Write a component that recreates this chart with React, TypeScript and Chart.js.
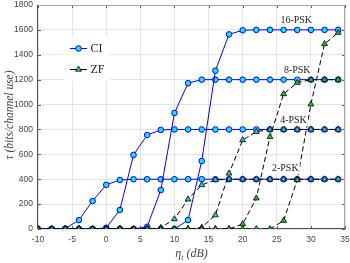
import { useEffect, useRef } from 'react';
import { Chart, registerables } from 'chart.js';

Chart.register(...registerables);

// SNR values (dB)
const snrDb = [-10, -8, -6, -4, -2, 0, 2, 4, 6, 8, 10, 12, 14, 16, 18, 20, 22, 24, 26, 28, 30, 32, 34];

// CI throughput (bits/channel use)
const ci2psk = [0, 0, 3, 72, 225, 355, 394, 400, 400, 400, 400, 400, 400, 400, 400, 400, 400, 400, 400, 400, 400, 400, 400];
const ci4psk = [0, 0, 0, 0, 0, 10, 153, 595, 755, 796, 800, 800, 800, 800, 800, 800, 800, 800, 800, 800, 800, 800, 800];
const ci8psk = [0, 0, 0, 0, 0, 0, 0, 0, 18, 313, 932, 1172, 1200, 1200, 1200, 1200, 1200, 1200, 1200, 1200, 1200, 1200, 1200];
const ci16psk = [0, 0, 0, 0, 0, 0, 0, 0, 0, 0, 0, 72, 546, 1272, 1564, 1597, 1600, 1600, 1600, 1600, 1600, 1600, 1600];

// ZF throughput (bits/channel use)
const zf2psk = [0, 0, 0, 0, 0, 0, 0, 0, 0, 10, 80, 239, 354, 394, 400, 400, 400, 400, 400, 400, 400, 400, 400];
const zf4psk = [0, 0, 0, 0, 0, 0, 0, 0, 0, 0, 0, 0, 12, 112, 447, 715, 782, 800, 800, 800, 800, 800, 800];
const zf8psk = [0, 0, 0, 0, 0, 0, 0, 0, 0, 0, 0, 0, 0, 0, 0, 40, 247, 740, 1085, 1176, 1200, 1200, 1200];
const zf16psk = [0, 0, 0, 0, 0, 0, 0, 0, 0, 0, 0, 0, 0, 0, 0, 0, 0, 0, 67, 394, 1002, 1487, 1578];

const xTicks = [-10, -5, 0, 5, 10, 15, 20, 25, 30, 35];
const yTicks = [0, 200, 400, 600, 800, 1000, 1200, 1400, 1600, 1800];

const seriesLabels = ['CI', 'ZF'];
const curveLabels = ['16-PSK', '8-PSK', '4-PSK', '2-PSK'];
// label anchor (dB, value) for each curve text
const curveLabelX = [27.85, 28.0, 27.45, 26.25];
const curveLabelY = [1675, 1275, 875, 490];

const CYAN = '#12e4fb';
const ZF_CYAN = '#2fc6c6';
const ZF_GREEN = '#22c422';

const toXY = (vals: number[]) => vals.map((v, i) => ({ x: snrDb[i], y: v }));

const ciSet = (vals: number[]) => ({
  label: 'CI',
  data: toXY(vals),
  borderColor: '#0000ff',
  borderWidth: 1,
  backgroundColor: CYAN,
  pointBackgroundColor: CYAN,
  pointBorderColor: '#0000ff',
  pointBorderWidth: 1,
  pointRadius: 2.8,
  pointStyle: 'circle',
  tension: 0,
});

const zfSet = (vals: number[], fill: string) => ({
  label: 'ZF',
  data: toXY(vals),
  borderColor: '#000000',
  borderWidth: 1,
  borderDash: [5, 3],
  backgroundColor: fill,
  pointBackgroundColor: fill,
  pointBorderColor: '#000000',
  pointBorderWidth: 0.8,
  pointRadius: 3.4,
  pointStyle: 'triangle',
  tension: 0,
});

const overlay = {
  id: 'overlay',
  beforeDatasetsDraw(chart: any) {
    const { ctx, chartArea: a, scales } = chart;
    const x = scales.x;
    const y = scales.y;
    ctx.save();
    ctx.lineWidth = 1;
    ctx.strokeStyle = '#606060';
    ctx.beginPath();
    for (const t of xTicks) {
      const px = Math.round(x.getPixelForValue(t)) + 0.5;
      ctx.moveTo(px, a.bottom);
      ctx.lineTo(px, a.bottom - 3);
      ctx.moveTo(px, a.top);
      ctx.lineTo(px, a.top + 3);
    }
    for (const t of yTicks) {
      const py = Math.round(y.getPixelForValue(t)) + 0.5;
      ctx.moveTo(a.left, py);
      ctx.lineTo(a.left + 3, py);
      ctx.moveTo(a.right, py);
      ctx.lineTo(a.right - 3, py);
    }
    ctx.stroke();
    // frame
    ctx.strokeStyle = '#a8a8a8';
    ctx.beginPath();
    ctx.moveTo(Math.round(a.left), Math.round(a.top) + 0.5);
    ctx.lineTo(Math.round(a.right), Math.round(a.top) + 0.5);
    ctx.moveTo(Math.round(a.right) - 0.5, Math.round(a.top));
    ctx.lineTo(Math.round(a.right) - 0.5, Math.round(a.bottom));
    ctx.stroke();
    ctx.strokeStyle = '#505050';
    ctx.beginPath();
    ctx.moveTo(Math.round(a.left) - 0.5, Math.round(a.top));
    ctx.lineTo(Math.round(a.left) - 0.5, Math.round(a.bottom));
    ctx.moveTo(Math.round(a.left), Math.round(a.bottom) - 0.5);
    ctx.lineTo(Math.round(a.right), Math.round(a.bottom) - 0.5);
    ctx.stroke();
    ctx.restore();
  },
  afterDatasetsDraw(chart: any) {
    const { ctx, scales } = chart;
    const x = scales.x;
    const y = scales.y;
    ctx.save();
    // curve labels
    ctx.font = '10px "Liberation Serif", "Times New Roman", serif';
    ctx.textAlign = 'center';
    ctx.textBaseline = 'middle';
    curveLabels.forEach((lab, i) => {
      const px = x.getPixelForValue(curveLabelX[i]);
      const py = y.getPixelForValue(curveLabelY[i]);
      const w = ctx.measureText(lab).width;
      ctx.fillStyle = '#ffffff';
      ctx.fillRect(px - w / 2 - 1, py - 6, w + 2, 12);
      ctx.fillStyle = '#222222';
      ctx.fillText(lab, px, py);
    });
    // legend
    const lx = 64, ly = 36, lw = 46, lh = 45;
    ctx.fillStyle = '#ffffff';
    ctx.fillRect(lx, ly, lw, lh);
    const rows = [48, 69];
    // CI
    ctx.strokeStyle = '#0000ff';
    ctx.lineWidth = 1;
    ctx.setLineDash([]);
    ctx.beginPath();
    ctx.moveTo(70, rows[0] + 0.5);
    ctx.lineTo(87, rows[0] + 0.5);
    ctx.stroke();
    ctx.beginPath();
    ctx.arc(78.5, rows[0] + 0.5, 2.8, 0, Math.PI * 2);
    ctx.fillStyle = CYAN;
    ctx.fill();
    ctx.stroke();
    // ZF
    ctx.strokeStyle = '#000000';
    ctx.beginPath();
    ctx.moveTo(70, rows[1] + 0.5);
    ctx.lineTo(87, rows[1] + 0.5);
    ctx.stroke();
    ctx.beginPath();
    const cx = 78.5, cy = rows[1] + 0.5, r = 3.4;
    ctx.moveTo(cx, cy - r);
    ctx.lineTo(cx + r * 0.866, cy + r * 0.5);
    ctx.lineTo(cx - r * 0.866, cy + r * 0.5);
    ctx.closePath();
    ctx.fillStyle = ZF_CYAN;
    ctx.lineWidth = 0.8;
    ctx.fill();
    ctx.stroke();
    ctx.fillStyle = '#222222';
    ctx.font = '12px "Liberation Serif", "Times New Roman", serif';
    ctx.textAlign = 'left';
    ctx.textBaseline = 'middle';
    ctx.fillText(seriesLabels[0], 90.5, rows[0] + 1);
    ctx.fillText(seriesLabels[1], 90.5, rows[1] + 1);
    ctx.restore();
  },
  afterDraw(chart: any) {
    const { ctx, chartArea: a } = chart;
    ctx.save();
    ctx.fillStyle = '#444444';
    // y title
    ctx.font = 'italic 11.5px "Liberation Serif", "Times New Roman", serif';
    ctx.translate(9.5, (a.top + a.bottom) / 2 - 2);
    ctx.rotate(-Math.PI / 2);
    ctx.textAlign = 'center';
    ctx.textBaseline = 'middle';
    ctx.fillText('\u03c4 (bits/channel use)', 0, 0);
    ctx.restore();
    // x title: eta_t (dB)
    ctx.save();
    ctx.fillStyle = '#444444';
    ctx.textBaseline = 'alphabetic';
    ctx.textAlign = 'left';
    const main = 'italic 12px "Liberation Serif", "Times New Roman", serif';
    const sub = 'italic 8px "Liberation Serif", "Times New Roman", serif';
    ctx.font = main;
    const w1 = ctx.measureText('\u03b7').width;
    const w3 = ctx.measureText(' (dB)').width;
    ctx.font = sub;
    const w2 = ctx.measureText('t').width;
    const total = w1 + w2 + w3;
    let px = (a.left + a.right) / 2 - total / 2;
    const base = 257;
    ctx.font = main;
    ctx.fillText('\u03b7', px, base);
    px += w1;
    ctx.font = sub;
    ctx.fillText('t', px, base + 3);
    px += w2;
    ctx.font = main;
    ctx.fillText(' (dB)', px, base);
    ctx.restore();
  },
};

export default function App() {
  const ref = useRef<HTMLCanvasElement>(null);
  useEffect(() => {
    if (!ref.current) return;
    const chart = new Chart(ref.current, {
      type: 'line',
      data: {
        datasets: [
          zfSet(zf16psk, ZF_GREEN),
          zfSet(zf8psk, ZF_GREEN),
          zfSet(zf4psk, ZF_CYAN),
          zfSet(zf2psk, ZF_CYAN),
          ciSet(ci16psk),
          ciSet(ci8psk),
          ciSet(ci4psk),
          ciSet(ci2psk),
        ] as any,
      },
      options: {
        animation: false,
        responsive: false,
        events: [],
        layout: { padding: { left: 0, top: 5, right: 5, bottom: 0 } },
        plugins: { legend: { display: false }, tooltip: { enabled: false } },
        scales: {
          x: {
            type: 'linear',
            min: -10,
            max: 35,
            afterFit: (s: any) => {
              s.height = 34;
              s.paddingLeft = 0;
              s.paddingRight = 0;
            },
            afterBuildTicks: (s: any) => { s.ticks = xTicks.map((v) => ({ value: v })); },
            grid: { color: '#e4e4e4', lineWidth: 1, drawTicks: false },
            border: { display: false },
            ticks: {
              padding: 6,
              color: '#444444',
              font: { family: '"Liberation Sans", Arial, sans-serif', size: 8.5 },
              maxRotation: 0,
              callback: (v: any) => String(v),
            },
          },
          y: {
            type: 'linear',
            min: 0,
            max: 1800,
            afterFit: (s: any) => {
              s.width = 38;
              s.paddingTop = 0;
              s.paddingBottom = 0;
            },
            afterBuildTicks: (s: any) => { s.ticks = yTicks.map((v) => ({ value: v })); },
            grid: { color: '#e4e4e4', lineWidth: 1, drawTicks: false },
            border: { display: false },
            ticks: {
              padding: 5,
              color: '#444444',
              font: { family: '"Liberation Sans", Arial, sans-serif', size: 8.5 },
              callback: (v: any) => String(v),
            },
          },
        },
      } as any,
      plugins: [overlay],
    });
    return () => chart.destroy();
  }, []);
  return (
    <div style={{ position: 'absolute', left: 0, top: 0, width: 350, height: 263, background: '#ffffff' }}>
      <canvas ref={ref} width={350} height={263} style={{ display: 'block' }} />
    </div>
  );
}
